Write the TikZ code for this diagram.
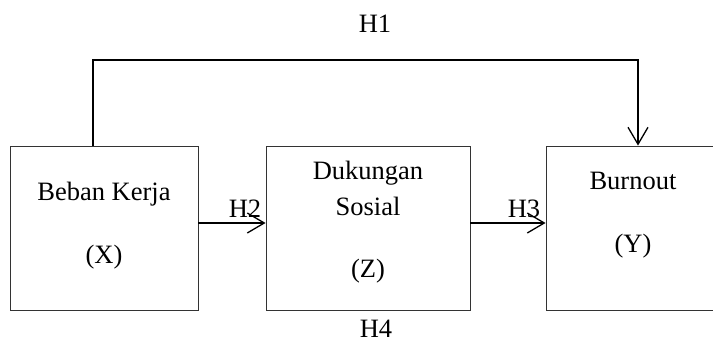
\documentclass[tikz,border=0pt]{standalone}
\usepackage{fontspec}
\setmainfont{Liberation Serif}
\usetikzlibrary{arrows.meta}
\begin{document}
\begin{tikzpicture}[x=1pt,y=-1pt,
  box/.style={draw=black!80,line width=0.9pt,minimum width=#1,minimum height=164pt,inner sep=0pt},
  lbl/.style={font=\fontsize{26.5}{31}\selectfont,inner sep=0pt,anchor=base},
  conn/.style={line width=1.5pt,-{Straight Barb[length=17pt,width=20pt,line width=1.3pt]}}]
\useasboundingbox (0,0) rectangle (713,344);
\node[box=188pt] (lb) at (104,228) {};
\node[box=204pt] (mb) at (368,228) {};
\node[box=170pt] (rb) at (631,228) {};
\node[lbl] (t1) at (104,201) {Beban Kerja};
\node[lbl] (t2) at (104,264) {(X)};
\node[lbl] (t3) at (368,180) {Dukungan};
\node[lbl] (t4) at (368,216) {Sosial};
\node[lbl] (t5) at (368,278) {(Z)};
\node[lbl] (t6) at (633,190) {Burnout};
\node[lbl] (t7) at (633,253) {(Y)};
\node[lbl] (h1) at (375,33) {H1};
\node[lbl] (h2) at (245,218) {H2};
\node[lbl] (h3) at (524,218) {H3};
\node[lbl] (h4) at (376,338) {H4};
\coordinate (c1) at (93,60);
\coordinate (c2) at (638,60);
\draw[conn] (lb.north -| c1) -- (c1) -- (c2) -- (c2 |- rb.north);
\draw[conn] (lb.east |- 0,223) -- (mb.west |- 0,223);
\draw[conn] (mb.east |- 0,223) -- (rb.west |- 0,223);
\end{tikzpicture}
\end{document}
